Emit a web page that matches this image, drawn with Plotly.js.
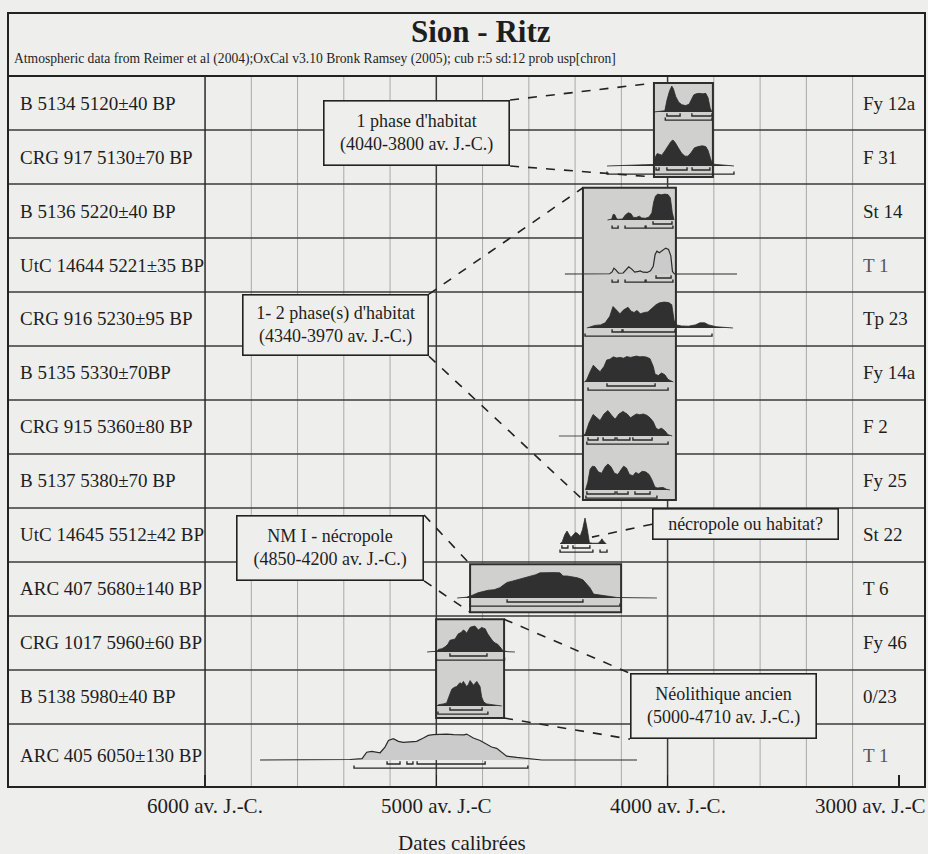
<!DOCTYPE html>
<html><head><meta charset="utf-8">
<script src="https://cdn.plot.ly/plotly-3.0.1.min.js"></script>
<style>html,body{margin:0;padding:0;background:#eeeeec;} #chart{width:928px;height:854px;}</style>
</head><body><div id="chart"></div>
<script>
// ---------- DATA ----------
const labelsLeft = ["B 5134 5120±40 BP","CRG 917 5130±70 BP","B 5136 5220±40 BP","UtC 14644 5221±35 BP",
  "CRG 916 5230±95 BP","B 5135 5330±70BP","CRG 915 5360±80 BP","B 5137 5380±70 BP","UtC 14645 5512±42 BP",
  "ARC 407 5680±140 BP","CRG 1017 5960±60 BP","B 5138 5980±40 BP","ARC 405 6050±130 BP"];
const labelsRight = ["Fy 12a","F 31","St 14","T 1","Tp 23","Fy 14a","F 2","Fy 25","St 22","T 6","Fy 46","0/23","T 1"];
const tickYears = [6000,5000,4000,3000];
const tickLabels = ["6000 av. J.-C.","5000 av. J.-C","4000 av. J.-C.","3000 av. J.-C"];
const majorYears = [5000,4000];
const minorYears = [5800,5600,5400,5200,4800,4600,4400,4200,3800,3600,3400,3200];

// calibrated probability distributions (years BC, relative probability)
const yrs0 = [4060,4030,4012,4003,3992,3982,3975,3965,3952,3938,3922,3907,3897,3887,3877,3862,3848,3835,3825,3816,3808];
const p0   = [0,0.04,0.05,0.45,0.8,1.0,0.9,0.6,0.38,0.28,0.25,0.3,0.5,0.66,0.7,0.72,0.7,0.72,0.55,0.15,0];
const yrs1 = [4262,4200,4150,4100,4060,4053,4045,4035,4025,4012,3998,3985,3977,3968,3955,3940,3925,3912,3898,3884,3868,3850,3835,3825,3815,3806,3790,3760,3735,3713];
const p1   = [0,0.03,0.04,0.05,0.06,0.35,0.48,0.45,0.42,0.58,0.78,0.95,1.0,0.92,0.72,0.5,0.38,0.38,0.52,0.7,0.75,0.78,0.75,0.6,0.3,0.08,0.06,0.05,0.02,0];
const yrs2 = [4260,4242,4235,4228,4220,4212,4195,4182,4170,4158,4148,4135,4122,4112,4095,4080,4068,4060,4052,4042,4028,4012,3998,3988,3980,3972];
const p2   = [0,0.03,0.22,0.2,0.04,0.03,0.04,0.2,0.28,0.24,0.1,0.1,0.15,0.08,0.07,0.12,0.28,0.7,0.93,1.0,0.97,1.0,0.98,0.85,0.3,0];
const yrs3 = [4444,4300,4250,4240,4232,4224,4212,4192,4180,4168,4156,4142,4126,4118,4106,4088,4074,4062,4054,4046,4036,4022,4008,3996,3986,3979,3970,3850,3700];
const p3   = [0,0,0.01,0.08,0.22,0.16,0.03,0.04,0.18,0.28,0.2,0.07,0.1,0.12,0.07,0.06,0.12,0.3,0.75,0.88,0.82,0.9,1.0,0.95,0.7,0.1,0,0,0];
const yrs4 = [4349,4335,4315,4290,4270,4250,4236,4222,4206,4190,4171,4158,4145,4132,4118,4100,4085,4065,4050,4035,4015,3995,3982,3972,3962,3940,3910,3880,3860,3840,3822,3790,3750,3717];
const p4   = [0,0.05,0.1,0.12,0.2,0.45,0.83,0.7,0.55,0.7,0.8,0.65,0.6,0.68,0.55,0.6,0.62,0.78,0.9,0.97,1.0,0.98,0.9,0.3,0.12,0.08,0.07,0.12,0.2,0.2,0.12,0.05,0.02,0];
const yrs5 = [4360,4350,4335,4321,4305,4292,4275,4263,4249,4235,4220,4206,4190,4177,4160,4145,4134,4120,4105,4090,4076,4062,4054,4040,4026,4012,3998,3975];
const p5   = [0,0.08,0.4,0.65,0.5,0.4,0.6,0.85,0.88,0.97,0.93,0.95,0.92,0.98,0.95,0.97,1.0,0.97,0.98,0.96,0.9,0.6,0.3,0.25,0.35,0.28,0.1,0];
const yrs6 = [4470,4366,4355,4340,4322,4305,4292,4275,4258,4242,4227,4210,4193,4175,4160,4148,4134,4120,4105,4090,4076,4062,4050,4040,4026,4012,3998,3980];
const p6   = [0,0,0.1,0.5,0.83,0.7,0.6,0.85,0.98,0.8,0.65,0.85,0.95,0.85,0.7,0.78,0.85,0.82,0.85,0.8,0.7,0.55,0.3,0.25,0.3,0.2,0.05,0];
const yrs7 = [4355,4345,4335,4325,4314,4300,4285,4270,4258,4245,4230,4215,4200,4190,4178,4165,4150,4138,4125,4110,4095,4080,4068,4055,4045,4030,4020,4005,3990];
const p7   = [0,0.3,0.8,0.92,0.9,0.7,0.65,0.9,1.0,0.9,0.65,0.6,0.8,0.92,0.85,0.6,0.55,0.68,0.62,0.72,0.7,0.6,0.4,0.12,0.08,0.1,0.1,0.03,0];
const yrs8 = [4465,4455,4445,4435,4425,4418,4408,4398,4388,4378,4368,4357,4348,4338,4325,4300,4290,4284,4278,4265];
const p8   = [0,0.1,0.35,0.5,0.35,0.25,0.35,0.45,0.4,0.3,0.55,1.0,0.6,0.05,0.03,0.03,0.12,0.2,0.12,0];
const yrs9 = [4910,4870,4846,4820,4798,4775,4750,4725,4710,4694,4672,4651,4630,4608,4590,4570,4552,4530,4510,4490,4465,4452,4435,4409,4390,4366,4350,4336,4320,4300,4284,4265,4240,4219,4150,4046];
const p9   = [0,0.03,0.1,0.2,0.25,0.3,0.32,0.4,0.5,0.6,0.65,0.7,0.75,0.8,0.85,0.9,0.97,0.98,1.0,0.98,0.97,0.85,0.85,0.82,0.78,0.7,0.55,0.4,0.15,0.12,0.12,0.08,0.05,0.02,0.01,0];
const yrs10 = [5040,4998,4991,4975,4962,4950,4941,4930,4919,4905,4893,4883,4875,4869,4862,4854,4844,4833,4825,4818,4811,4804,4796,4789,4778,4768,4756,4746,4735,4725,4712,4690,4660];
const p10   = [0,0.03,0.1,0.13,0.2,0.3,0.45,0.48,0.5,0.7,0.75,0.85,0.8,0.72,0.85,0.95,0.98,1.0,0.92,0.85,0.9,0.95,0.92,0.9,0.7,0.55,0.42,0.35,0.3,0.2,0.05,0.01,0];
const yrs11 = [4998,4990,4970,4955,4948,4940,4933,4922,4912,4898,4890,4883,4876,4869,4862,4854,4847,4840,4832,4825,4818,4811,4804,4795,4782,4760,4730,4717];
const p11   = [0,0.05,0.08,0.12,0.3,0.5,0.65,0.72,0.75,0.9,0.85,0.95,0.85,0.75,0.82,0.98,0.9,0.8,0.88,0.95,0.85,0.75,0.35,0.15,0.08,0.05,0.03,0];
const yrs12 = [5762,5400,5373,5321,5301,5279,5260,5243,5222,5207,5186,5164,5143,5114,5085,5056,5035,5013,4985,4955,4925,4898,4880,4869,4840,4811,4782,4761,4739,4717,4696,4652,4624,4581,4544,4300,4132];
const p12   = [0,0,0.02,0.05,0.3,0.33,0.3,0.28,0.5,0.75,0.82,0.72,0.68,0.7,0.72,0.85,0.95,0.98,1.0,1.0,0.98,0.98,0.97,1.0,0.85,0.75,0.6,0.5,0.45,0.3,0.15,0.1,0.08,0.03,0,0,0];

// 68.2% and 95.4% ranges (years BC)
const r68 = [[[4003,3946],[3895,3808]], [[4050,4037],[4003,3916],[3894,3817]], [[4063,3981]], [[4050,3985]],
  [[4240,4197],[4193,3968]], [[4262,4054]], [[4344,4301],[4279,4227],[4219,4163],[4150,4067]],
  [[4349,4227],[4219,4171],[4141,4076]], [[4457,4431],[4409,4336]], [[4694,4366]], [[4941,4781]],
  [[4941,4802]], [[5213,5157],[5127,5101],[5083,4789]]];
const r95 = [[[4010,3808]], [[4262,3713]], [[4240,4214],[4184,4097],[4093,3977]], [[4240,4214],[4184,4097],[4093,3977]],
  [[4357,3808]], [[4344,3998]], [[4349,3998]], [[4353,4046]], [[4465,4323],[4292,4262]], [[4854,4206]],
  [[5000,4705]], [[4993,4777]], [[5356,4604]]];
const outlinedRows = [3,12];

// ---------- BUILD ----------
const yrsAll = [yrs0,yrs1,yrs2,yrs3,yrs4,yrs5,yrs6,yrs7,yrs8,yrs9,yrs10,yrs11,yrs12];
const pAll = [p0,p1,p2,p3,p4,p5,p6,p7,p8,p9,p10,p11,p12];
const BG = '#eeeeec', INK = '#2a2a2a';
const yTop = 13.167;
const baseOff = 0.667, H = 0.48;
const FONT = 'Liberation Serif, Times New Roman, serif';

const traces = [];
yrsAll.forEach((yr, i) => {
  const base = i + baseOff;
  const out = outlinedRows.includes(i);
  traces.push({
    x: yr, y: pAll[i].map(p => base - p * H), mode: 'lines', fill: 'toself',
    fillcolor: out ? '#cbcbcb' : '#303030',
    line: {color: INK, width: out ? 1.2 : 0.8}, hoverinfo: 'skip'
  });
});
const bx = [], by = [];
function bracket(a, b, yl) { bx.push(a, a, b, b, null); by.push(yl - 0.05, yl, yl, yl - 0.05, null); }
r68.forEach((rs, i) => rs.forEach(r => bracket(r[0], r[1], i + baseOff + 0.075)));
r95.forEach((rs, i) => rs.forEach(r => bracket(r[0], r[1], i + baseOff + 0.15)));
traces.push({x: bx, y: by, mode: 'lines', line: {color: INK, width: 1.4}, hoverinfo: 'skip', connectgaps: false});

const shapes = [];
// vertical grid (only between 6000 and 3200 av. J.-C.)
minorYears.forEach(y => shapes.push({type:'line', layer:'between', xref:'x', yref:'paper', x0:y, x1:y, y0:0, y1:1, line:{color:'#a9a9a9', width:1}}));
// row lines
for (let i = 1; i < 13; i++) shapes.push({type:'line', layer:'between', xref:'paper', yref:'y', x0:0, x1:1, y0:i, y1:i, line:{color:'#3a3a3a', width:1.4}});
// grouping boxes
const boxes = [[4059,3804,0.13,1.87],[4366,3964,2.07,7.85],[4854,4201,9.04,9.93],[5001,4707,10.06,11.89]];
boxes.forEach(b => shapes.push({type:'rect', layer:'between', xref:'x', yref:'y', x0:b[0], x1:b[1], y0:b[2], y1:b[3], fillcolor:'#d0d0ce', line:{color:'#2e2e2e', width:2}}));
majorYears.forEach(y => shapes.push({type:'line', layer:'between', xref:'x', yref:'paper', x0:y, x1:y, y0:0, y1:1, line:{color:'#3a3a3a', width:1.5}}));
// 6000 border
shapes.push({type:'line', layer:'above', xref:'x', yref:'paper', x0:6000, x1:6000, y0:0, y1:1, line:{color:'#2a2a2a', width:1.5}});
// frame + subtitle separator
shapes.push({type:'rect', layer:'above', xref:'paper', yref:'paper', x0:0, x1:1, y0:0, y1:1 + 63/711, line:{color:'#222', width:2}});
shapes.push({type:'line', layer:'above', xref:'paper', yref:'paper', x0:0, x1:1, y0:1, y1:1, line:{color:'#222', width:1.8}});
// dashed connectors
const conns = [[4681,0.444,4059,0.13],[4681,1.667,4059,1.87],[5032,4.04,4366,2.07],[5032,5.19,4366,7.85],
  [5053,8.13,4854,9.04],[5053,9.35,4854,9.93],[4067,8.3,4327,8.54],[4707,10.06,4163,11.06],[4707,11.89,4163,12.28]];
conns.forEach(c => shapes.push({type:'line', layer:'above', xref:'x', yref:'y', x0:c[0], y0:c[1], x1:c[2], y1:c[3], line:{color:'#222', width:1.6, dash:'dash'}}));

const ann = [];
const bounds = [0,1,2,3,4,5,6,7,8,9,10,11,12,yTop];
labelsLeft.forEach((t, i) => ann.push({xref:'paper', yref:'y', x:10/917, y:(bounds[i]+bounds[i+1])/2, text:t, showarrow:false, xanchor:'left', font:{family:FONT, size:19, color:'#1e1e1e'}}));
labelsRight.forEach((t, i) => ann.push({xref:'paper', yref:'y', x:(861-8)/917, y:(bounds[i]+bounds[i+1])/2, text:t, showarrow:false, xanchor:'left', font:{family:FONT, size:19, color: t === 'T 1' ? '#555' : '#1e1e1e'}}));
tickYears.forEach((yv, i) => {
  const last = i === tickYears.length - 1;
  ann.push({xref: last ? 'paper' : 'x', yref:'paper', x: last ? 1.003 : yv, y: -19/711, text: tickLabels[i], showarrow:false,
    xanchor: last ? 'right' : 'center', yanchor:'middle', font:{family:FONT, size:21, color:'#1e1e1e'}});
});
ann.push({xref:'paper', yref:'paper', x:(462-8)/917, y:-56/711, text:'Dates calibrées', showarrow:false, yanchor:'middle', font:{family:FONT, size:21, color:'#1e1e1e'}});
ann.push({xref:'paper', yref:'paper', x:(481-8)/917, y:1 + 44/711, text:'<b>Sion - Ritz</b>', showarrow:false, yanchor:'middle', font:{family:FONT, size:31, color:'#1e1e1e'}});
ann.push({xref:'paper', yref:'paper', x:4/917, y:1 + 17/711, text:'Atmospheric data from Reimer et al (2004);OxCal v3.10 Bronk Ramsey (2005); cub r:5 sd:12 prob usp[chron]', showarrow:false, xanchor:'left', yanchor:'middle', font:{family:FONT, size:13.6, color:'#1e1e1e'}});
const boxAnn = [
  [5086,1.056,187,66,"1 phase d'habitat<br>(4040-3800 av. J.-C.)"],
  [5436,4.61,187,62,"1- 2 phase(s) d'habitat<br>(4340-3970 av. J.-C.)"],
  [5460,8.74,188,66,"NM I - nécropole<br>(4850-4200 av. J.-C.)"],
  [3663,8.30,187,32,"nécropole ou habitat?"],
  [3758,11.67,187,66,"Néolithique ancien<br>(5000-4710 av. J.-C.)"]];
boxAnn.forEach(b => ann.push({xref:'x', yref:'y', x:b[0], y:b[1], width:b[2]-3, height:b[3]-3, text:b[4], showarrow:false,
  bgcolor:BG, bordercolor:'#222', borderwidth:1.6, borderpad:0, font:{family:FONT, size:18, color:'#1e1e1e'}}));

const layout = {
  width:928, height:854, margin:{l:8, r:3, t:76, b:67},
  paper_bgcolor:BG, plot_bgcolor:BG, showlegend:false,
  xaxis:{range:[6852,2887], tickvals:tickYears, showgrid:false,
    ticks:'inside', ticklen:12, tickcolor:'#222', tickwidth:1.5, showticklabels:false, zeroline:false, showline:false},
  yaxis:{range:[yTop,0], showgrid:false, zeroline:false, showticklabels:false, showline:false},
  shapes:shapes, annotations:ann
};
Plotly.newPlot('chart', traces, layout, {displayModeBar:false, staticPlot:true});
</script></body></html>
